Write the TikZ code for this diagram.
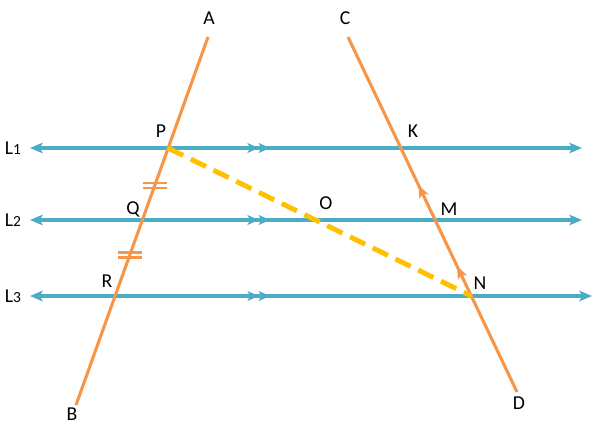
\documentclass[tikz,border=0pt]{standalone}
\usepackage{fontspec}
\setmainfont{Carlito}
\usepackage{tikz}
\usetikzlibrary{arrows.meta,positioning,decorations.markings}

\definecolor{lblue}{RGB}{75,172,198}
\definecolor{lorange}{RGB}{247,150,70}
\definecolor{lyellow}{RGB}{255,192,0}

\begin{document}
\begin{tikzpicture}[x=0.025cm,y=-0.025cm,
      pline/.style={line width=2.2pt, lblue, {Stealth[length=9pt,width=7.5pt,inset=2pt]}-{Stealth[length=9pt,width=7.5pt,inset=2pt]}},
      midarrow/.style={line width=2.4pt, lblue, -{Stealth[length=8pt,width=7pt,inset=2pt] Stealth[length=8pt,width=7pt,inset=2pt]}},
      tline/.style={line width=2.2pt, lorange},
      tick/.style={line width=1.6pt, lorange},
      dashline/.style={line width=3.5pt, lyellow, dash pattern=on 12pt off 6pt},
      lbl/.style={font={\fontsize{14}{16}\selectfont}, text=black, inner sep=0pt}]

    \useasboundingbox (0,0) rectangle (596,424);

    %points
    \coordinate (A) at (208,37);
    \coordinate (B) at (76,405);
    \coordinate (C) at (348,37);
    \coordinate (D) at (517,392);
    \coordinate (P) at (168,148);
    \coordinate (Q) at (142.4,220);
    \coordinate (R) at (115.1,296);
    \coordinate (K) at (400.8,148);
    \coordinate (M) at (435.1,220);
    \coordinate (N) at (471.3,296);

    %draw parallel lines
    \draw[pline] (30,148) coordinate (l1w) -- (582,148) coordinate (l1e);
    \draw[pline] (30,220) coordinate (l2w) -- (582,220) coordinate (l2e);
    \draw[pline] (30,296) coordinate (l3w) -- (592,296) coordinate (l3e);
    \foreach \y in {148,220,296}{
      \draw[midarrow] (210,\y) -- (270,\y);
    }

    %draw transversals
    \draw[tline] (A) -- (B);
    \draw[tline, postaction={decorate}, decoration={markings,
        mark=at position 0.355 with {\arrow{Stealth[length=9pt,width=7pt,inset=2pt]}},
        mark=at position 0.583 with {\arrow{Stealth[length=9pt,width=7pt,inset=2pt]}}}] (D) -- (C);

    %draw equal ticks
    \draw[tick] (143,183) -- (167,183);
    \draw[tick] (143,188) -- (167,188);
    \draw[tick] (118,252.5) -- (142,252.5);
    \draw[tick] (118,257.5) -- (142,257.5);

    %draw dashed segment
    \draw[dashline] (P) -- (N);

    %labels
    \node[lbl] (labA) at (209,18) {A};
    \node[lbl] (labB) at (72,414) {B};
    \node[lbl] (labC) at (345,18) {C};
    \node[lbl] (labD) at (519,403) {D};
    \node[lbl] (labP) at (161,131) {P};
    \node[lbl] (labK) at (413,131) {K};
    \node[lbl] (labQ) at (133,209) {Q};
    \node[lbl] (labM) at (449,209) {M};
    \node[lbl] (labR) at (107,281) {R};
    \node[lbl] (labN) at (480,283) {N};
    \node[lbl] (labO) at (326,203) {O};
    \node[lbl] (labL1) at (13,148) {L{\fontsize{11}{12}\selectfont 1}};
    \node[lbl] (labL2) at (13,220) {L{\fontsize{11}{12}\selectfont 2}};
    \node[lbl] (labL3) at (13,296) {L{\fontsize{11}{12}\selectfont 3}};

\end{tikzpicture}
\end{document}
